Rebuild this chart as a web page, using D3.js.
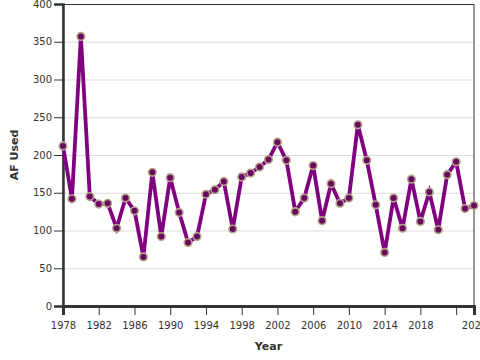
<!DOCTYPE html>
<html><head><meta charset="utf-8">
<script src="https://cdn.jsdelivr.net/npm/d3@7"></script>
<style>body{margin:0;background:#fff}svg{display:block}</style>
</head><body><svg id="c" width="480" height="360"></svg>
<script>
const years = [1978,1979,1980,1981,1982,1983,1984,1985,1986,1987,1988,1989,1990,1991,1992,1993,1994,1995,1996,1997,1998,1999,2000,2001,2002,2003,2004,2005,2006,2007,2008,2009,2010,2011,2012,2013,2014,2015,2016,2017,2018,2019,2020,2021,2022,2023,2024];
const afUsed = [212,142,357,145,135,136,103,143,126,65,177,92,170,124,84,92,148,154,165,102,171,176,184,194,217,193,125,143,186,113,162,136,143,240,193,134,71,143,103,168,112,151,101,174,191,129,133];
const xTicks = [1978,1982,1986,1990,1994,1998,2002,2006,2010,2014,2018,2022,2024];
const xTickLabels = ["1978","1982","1986","1990","1994","1998","2002","2006","2010","2014","2018","","2024"];
const yTicks = [0,50,100,150,200,250,300,350,400];
const xTitle = "Year", yTitle = "AF Used";

const svg = d3.select("#c");
const L=63, R=474, T=4, B=306;
const x = d3.scaleLinear().domain([1978,2024]).range([L,R]);
const y = d3.scaleLinear().domain([0,400]).range([B,T]);
const font = "DejaVu Sans, sans-serif";

// grid
svg.append("g").selectAll("line").data(yTicks).join("line")
  .attr("x1",L).attr("x2",R).attr("y1",d=>y(d)+0.5).attr("y2",d=>y(d)+0.5)
  .attr("stroke","#ddd").attr("stroke-width",1);

// frame
svg.append("rect").attr("x",L).attr("y",T+0.5).attr("width",R-L).attr("height",B-T)
  .attr("fill","none").attr("stroke","#333").attr("stroke-width",1);

// y axis
const ya = svg.append("g").attr("transform",`translate(${L},0)`)
  .call(d3.axisLeft(y).tickValues(yTicks).tickSize(9).tickPadding(2));
ya.select(".domain").attr("stroke","#333").attr("stroke-width",2.5);
ya.selectAll(".tick line").attr("stroke","#333");
ya.selectAll("text").attr("font-family",font).attr("font-size",10).attr("fill","#333");

// x axis
const xa = svg.append("g").attr("transform",`translate(0,${B})`)
  .call(d3.axisBottom(x).tickValues(xTicks).tickFormat((d,i)=>xTickLabels[i]).tickSize(9).tickPadding(7));
xa.select(".domain").attr("stroke","#333").attr("stroke-width",3);
xa.selectAll(".tick line").attr("stroke","#333");
xa.selectAll("text").attr("font-family",font).attr("font-size",10).attr("fill","#333");

// titles
svg.append("text").attr("x",(L+R)/2).attr("y",350).attr("text-anchor","middle")
  .attr("font-family",font).attr("font-weight","bold").attr("font-size",11).attr("fill","#333").text(xTitle);
svg.append("text").attr("transform",`translate(18,${(T+B)/2}) rotate(-90)`).attr("text-anchor","middle")
  .attr("font-family",font).attr("font-weight","bold").attr("font-size",11).attr("fill","#333").text(yTitle);

// line
const data = years.map((yr,i)=>({yr,v:afUsed[i]}));
svg.append("path").datum(data)
  .attr("d",d3.line().x(d=>x(d.yr)).y(d=>y(d.v)))
  .attr("fill","none").attr("stroke","#800080").attr("stroke-width",3.8).attr("stroke-linejoin","miter");

svg.append("g").selectAll("circle").data(data).join("circle")
  .attr("cx",d=>x(d.yr)).attr("cy",d=>y(d.v)).attr("r",3.8)
  .attr("fill","#6a0a5e").attr("stroke","#b4a48a").attr("stroke-width",1.6);
</script></body></html>
